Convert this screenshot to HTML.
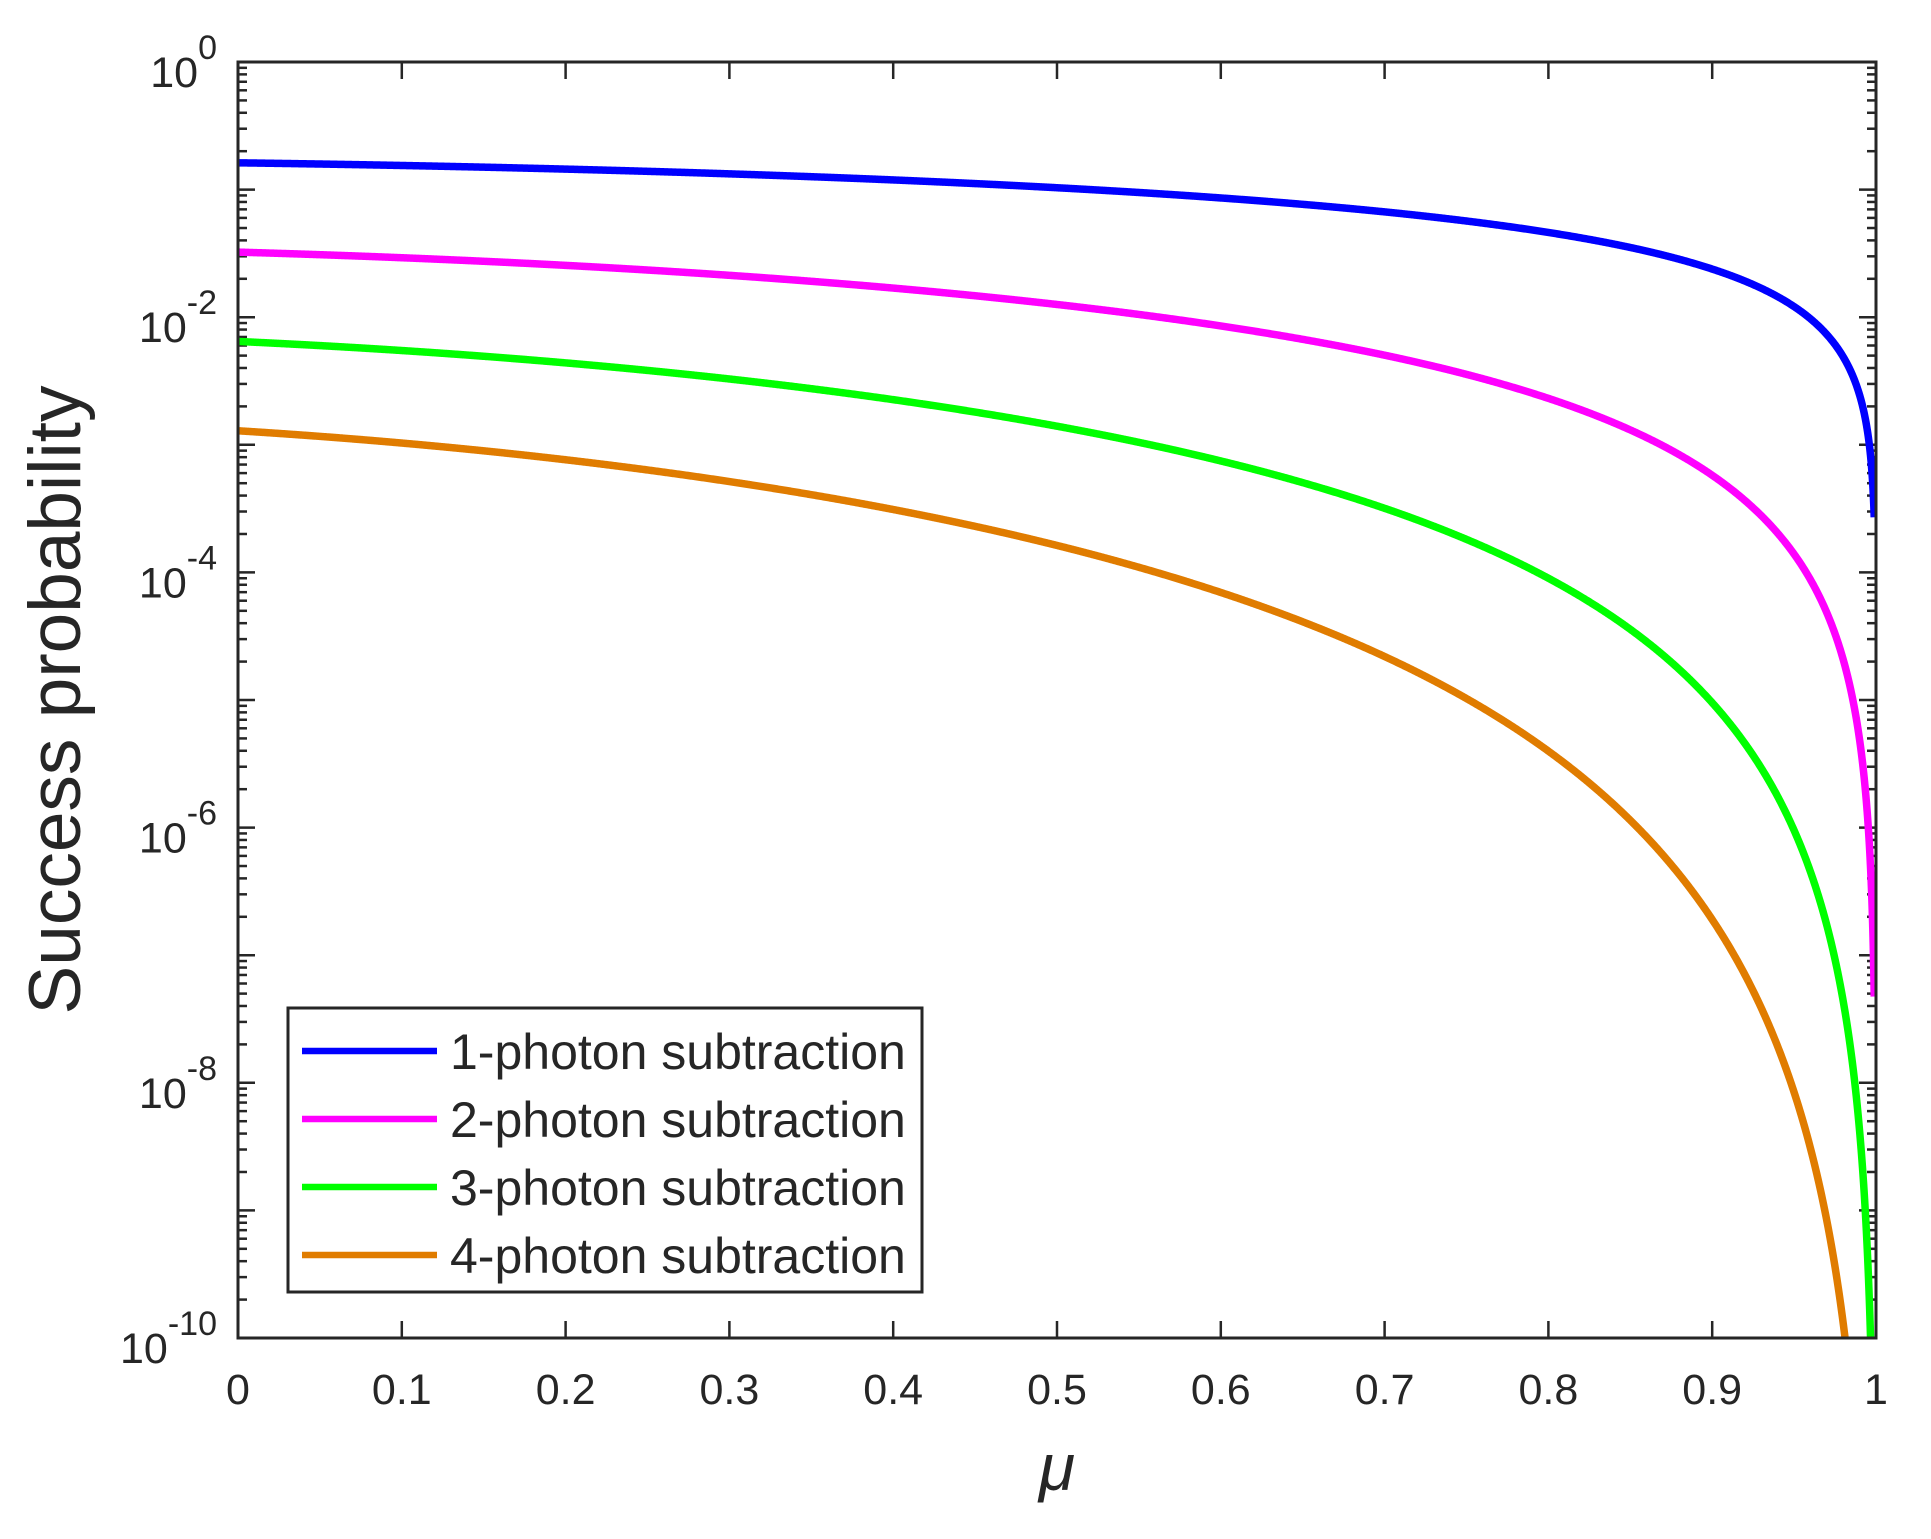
<!DOCTYPE html>
<html><head><meta charset="utf-8"><style>
html,body{margin:0;padding:0;background:#fff;}
svg{display:block;}
text{font-family:"Liberation Sans",Arial,sans-serif;fill:#262626;}
</style></head><body>
<svg id="s" width="1931" height="1539" viewBox="0 0 1931 1539" xmlns="http://www.w3.org/2000/svg">
<defs><clipPath id="c"><rect x="238" y="62" width="1638" height="1276"/></clipPath></defs>
<g id="ticks" stroke="#262626" stroke-width="2.5"></g>
<g id="curves" clip-path="url(#c)" fill="none" stroke-width="7.5" stroke-linejoin="round"></g>
<rect x="238" y="62" width="1638" height="1276" fill="none" stroke="#262626" stroke-width="3"/>
<g id="labels" font-size="43"></g>
<text x="80" y="700" font-size="73" text-anchor="middle" transform="rotate(-90 80 700)">Success probability</text>
<text x="1057" y="1490" font-size="66" font-style="italic" text-anchor="middle">μ</text>
<rect x="288" y="1008" width="634" height="284" fill="#fff" stroke="#262626" stroke-width="3"/>
<g stroke-width="6.5">
<line x1="302" y1="1051" x2="437" y2="1051" stroke="#0000FF"/>
<line x1="302" y1="1119" x2="437" y2="1119" stroke="#FF00FF"/>
<line x1="302" y1="1187" x2="437" y2="1187" stroke="#00FF00"/>
<line x1="302" y1="1255" x2="437" y2="1255" stroke="#E07C00"/>
</g>
<g font-size="50">
<text x="450" y="1069">1-photon subtraction</text>
<text x="450" y="1137">2-photon subtraction</text>
<text x="450" y="1205">3-photon subtraction</text>
<text x="450" y="1273">4-photon subtraction</text>
</g>
</svg>
<script>
var NS="http://www.w3.org/2000/svg";
var X0=238,X1=1876,Y0=62,Y1=1338,D=(Y1-Y0)/10;
function X(m){return X0+m*(X1-X0);}
function Y(L){return Y0-L*D;}
var tk=document.getElementById('ticks'),lb=document.getElementById('labels');
function ln(x1,y1,x2,y2){var l=document.createElementNS(NS,'line');l.setAttribute('x1',x1);l.setAttribute('y1',y1);l.setAttribute('x2',x2);l.setAttribute('y2',y2);tk.appendChild(l);}
for(var i=0;i<=10;i++){var x=X(i/10);ln(x,Y1,x,Y1-17);ln(x,Y0,x,Y0+17);
 var t=document.createElementNS(NS,'text');t.setAttribute('x',x);t.setAttribute('y',1404);t.setAttribute('text-anchor','middle');t.textContent=(i==10?'1':(i==0?'0':(i/10).toFixed(1)));lb.appendChild(t);}
for(var d=0;d<=10;d++){var y=Y(-d);ln(X0,y,X0+17,y);ln(X1,y,X1-17,y);
 if(d<10){for(var k=2;k<=9;k++){var yy=Y(-d-1+Math.log10(k));ln(X0,yy,X0+9,yy);ln(X1,yy,X1-9,yy);}}
 if(d%2==0){var t=document.createElementNS(NS,'text');t.setAttribute('x',217);t.setAttribute('y',y+25);t.setAttribute('text-anchor','end');
  var a=document.createElementNS(NS,'tspan');a.textContent='10';t.appendChild(a);
  var b=document.createElementNS(NS,'tspan');b.setAttribute('dy','-28');b.setAttribute('font-size','34');b.textContent=(d==0?'0':'-'+d);t.appendChild(b);lb.appendChild(t);}}
var cur=[[-0.79,1,'#0000FF'],[-1.49,2.1,'#FF00FF'],[-2.19,3.4,'#00FF00'],[-2.89,4.6,'#E07C00']];
var ms=[];for(var i=0;i<=2000;i++)ms.push(i/2000*0.99);
for(var j=0;j<=200;j++){ms.push(1-0.01*Math.pow(10,-j/200*Math.log10(0.01/0.0011)));}
var cg=document.getElementById('curves');
cur.forEach(function(c){var p='';for(var i=0;i<ms.length;i++){var m=ms[i];var g=Math.log10(1-m)+0.6*Math.log10(1+m);var L=c[0]+c[1]*g;var yv=Y(L);if(yv>Y1+20)yv=Y1+20;p+=(i?'L':'M')+X(m).toFixed(2)+' '+yv.toFixed(2);}
 var e=document.createElementNS(NS,'path');e.setAttribute('d',p);e.setAttribute('stroke',c[2]);cg.appendChild(e);});
</script>
</body></html>
